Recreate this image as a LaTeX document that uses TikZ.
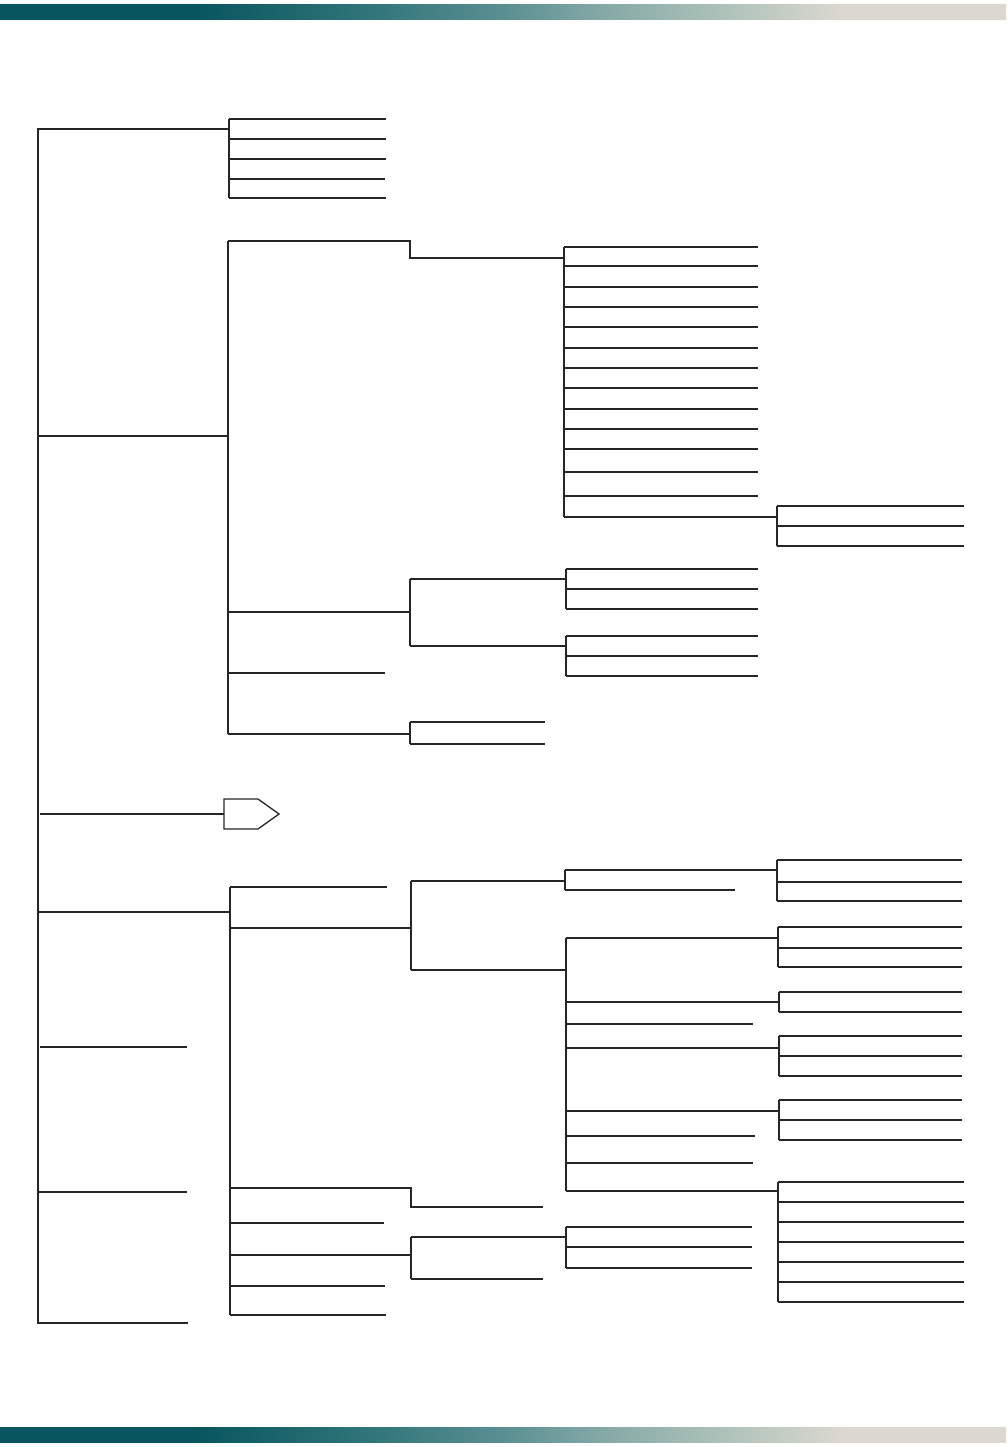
\documentclass[tikz,border=0pt]{standalone}
\definecolor{barA}{HTML}{0A5660}
\definecolor{barB}{HTML}{2E7478}
\definecolor{barC}{HTML}{5A8F92}
\definecolor{barD}{HTML}{85A9A7}
\definecolor{barE}{HTML}{AEC2B9}
\definecolor{barF}{HTML}{DCD8D0}
\definecolor{linec}{HTML}{262626}
\pgfdeclarehorizontalshading{barshade}{100bp}{color(0bp)=(barA); color(25bp)=(barA); color(35bp)=(barA); color(43bp)=(barB); color(50bp)=(barC); color(55bp)=(barD); color(61bp)=(barE); color(67bp)=(barF); color(75bp)=(barF); color(100bp)=(barF)}
\tikzset{
  ln/.style={draw=linec, line width=1.3pt, line join=miter},
  bar/.style={shading=barshade, draw=none}
}
\begin{document}
\begin{tikzpicture}[x=1pt,y=-1pt]
\useasboundingbox (0,0) rectangle (1008,1447);
% bars
\shade[bar] (0,5) rectangle (1006,20);
\shade[bar] (0,1427) rectangle (1006,1442);

% root
\draw[ln] (229,129) -- (38,129) -- (38,1323) -- (188,1323);

% group A
\draw[ln] (229,119) -- (229,198);
\foreach \y in {119,139,159,198} \draw[ln] (229,\y) -- (386,\y);
\draw[ln] (229,179) -- (385,179);

% group B
\draw[ln] (38,436) -- (228,436);
\draw[ln] (228,241) -- (228,734);
\draw[ln] (228,241) -- (410,241) -- (410,258) -- (564,258);
\draw[ln] (564,247) -- (564,517);
\foreach \y in {247,266,287,307,327,348,368,388,409,429,449,472,496} \draw[ln] (564,\y) -- (758,\y);
\draw[ln] (564,517) -- (777,517);
\draw[ln] (777,506) -- (777,546);
\foreach \y in {506,526,546} \draw[ln] (777,\y) -- (964,\y);
\draw[ln] (228,612) -- (410,612);
\draw[ln] (410,579) -- (410,646);
\draw[ln] (410,579) -- (566,579);
\draw[ln] (410,646) -- (566,646);
\draw[ln] (566,569) -- (566,609);
\foreach \y in {569,589,609} \draw[ln] (566,\y) -- (758,\y);
\draw[ln] (566,636) -- (566,676);
\foreach \y in {636,656,676} \draw[ln] (566,\y) -- (758,\y);
\draw[ln] (228,673) -- (385,673);
\draw[ln] (228,734) -- (410,734);
\draw[ln] (410,722) -- (410,744);
\draw[ln] (410,722) -- (545,722);
\draw[ln] (410,744) -- (545,744);

% pentagon
\draw[ln] (40,814) -- (224,814);
\draw[ln] (224,799) -- (258,799) -- (279,814) -- (258,829) -- (224,829) -- cycle;

% group D
\draw[ln] (38,912) -- (230,912);
\draw[ln] (230,887) -- (230,1315);
\draw[ln] (230,887) -- (387,887);
\draw[ln] (230,928) -- (411,928);
\draw[ln] (411,881) -- (411,970);
\draw[ln] (411,881) -- (565,881);
\draw[ln] (565,870) -- (565,890);
\draw[ln] (565,870) -- (777,870);
\draw[ln] (565,890) -- (735,890);
\draw[ln] (777,860) -- (777,901);
\foreach \y in {860,882,901} \draw[ln] (777,\y) -- (962,\y);
\draw[ln] (411,970) -- (566,970);
\draw[ln] (566,938) -- (566,1191);
\draw[ln] (566,938) -- (778,938);
\draw[ln] (778,927) -- (778,967);
\foreach \y in {927,948,967} \draw[ln] (778,\y) -- (962,\y);
\draw[ln] (566,1002) -- (779,1002);
\draw[ln] (779,992) -- (779,1012);
\foreach \y in {992,1012} \draw[ln] (779,\y) -- (962,\y);
\draw[ln] (566,1024) -- (753,1024);
\draw[ln] (566,1048) -- (779,1048);
\draw[ln] (779,1036) -- (779,1076);
\foreach \y in {1036,1056,1076} \draw[ln] (779,\y) -- (962,\y);
\draw[ln] (566,1111) -- (779,1111);
\draw[ln] (779,1100) -- (779,1140);
\foreach \y in {1100,1120,1140} \draw[ln] (779,\y) -- (962,\y);
\draw[ln] (566,1136) -- (755,1136);
\draw[ln] (566,1163) -- (753,1163);
\draw[ln] (566,1191) -- (778,1191);
\draw[ln] (778,1182) -- (778,1302);
\foreach \y in {1182,1202,1222,1242,1262,1282,1302} \draw[ln] (778,\y) -- (964,\y);
\draw[ln] (230,1188) -- (411,1188) -- (411,1207) -- (543,1207);
\draw[ln] (230,1223) -- (384,1223);
\draw[ln] (230,1255) -- (411,1255);
\draw[ln] (411,1237) -- (411,1279);
\draw[ln] (411,1237) -- (566,1237);
\draw[ln] (411,1279) -- (543,1279);
\draw[ln] (566,1227) -- (566,1268);
\foreach \y in {1227,1247,1268} \draw[ln] (566,\y) -- (752,\y);
\draw[ln] (230,1286) -- (385,1286);
\draw[ln] (230,1315) -- (386,1315);

% left stubs
\draw[ln] (40,1047) -- (187,1047);
\draw[ln] (38,1192) -- (187,1192);
\end{tikzpicture}
\end{document}
